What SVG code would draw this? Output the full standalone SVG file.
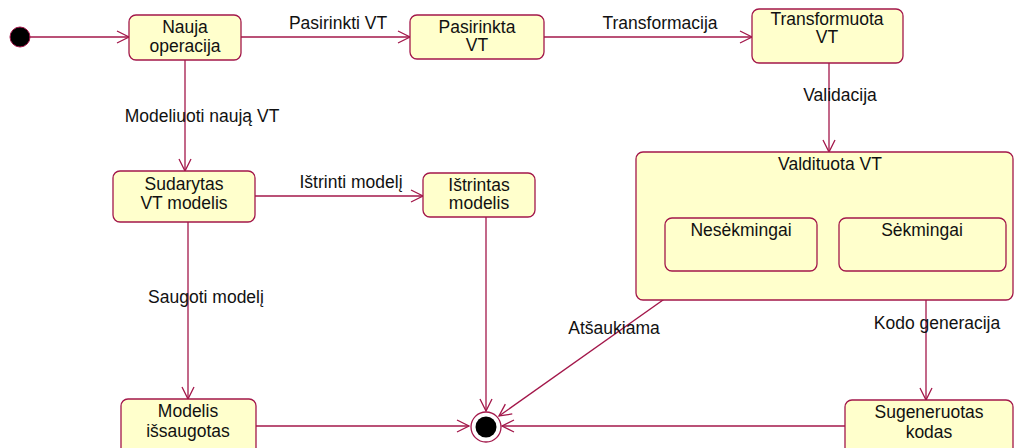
<svg xmlns="http://www.w3.org/2000/svg" width="1015" height="448" viewBox="0 0 1015 448">
  <style>
    .state { fill: #ffffcc; stroke: #a3174a; stroke-width: 1.3; }
    .edge { fill: none; stroke: #a3174a; stroke-width: 1.3; marker-end: url(#open); }
    text { font-family: "Liberation Sans", Arial, sans-serif; font-size: 17.5px; fill: #111; }
    .c { text-anchor: middle; }
  </style>
  <defs>
    <marker id="open" markerUnits="userSpaceOnUse" markerWidth="16" markerHeight="16" refX="13" refY="7" orient="auto" viewBox="0 0 16 14">
      <path d="M1,1 L13,7 L1,13" fill="none" stroke="#a3174a" stroke-width="1.3"/>
    </marker>
  </defs>

  <!-- transitions -->
  <g id="connectors">
    <line class="edge" x1="30" y1="37" x2="129" y2="37"/>
    <line class="edge" x1="241" y1="37" x2="410" y2="37"/>
    <line class="edge" x1="544" y1="37" x2="752" y2="37"/>
    <line class="edge" x1="829" y1="63" x2="829" y2="152"/>
    <line class="edge" x1="185" y1="60" x2="185" y2="171"/>
    <line class="edge" x1="255" y1="196" x2="423" y2="196"/>
    <line class="edge" x1="188" y1="222" x2="188" y2="399"/>
    <line class="edge" x1="486" y1="217" x2="486" y2="411"/>
    <line class="edge" x1="256" y1="426" x2="469" y2="426"/>
    <line class="edge" x1="704" y1="271" x2="499" y2="416"/>
    <line class="edge" x1="926" y1="271" x2="926" y2="400"/>
    <line class="edge" x1="845" y1="426" x2="502" y2="426"/>
    <text x="338" y="29" class="c">Pasirinkti VT</text>
    <text x="660" y="29" class="c">Transformacija</text>
    <text x="840" y="101" class="c">Validacija</text>
    <text x="202" y="122" class="c">Modeliuoti naują VT</text>
    <text x="351" y="188" class="c">Ištrinti modelį</text>
    <text x="206" y="303" class="c">Saugoti modelį</text>
    <text x="614" y="334" class="c">Atšaukiama</text>
    <text x="937" y="329" class="c">Kodo generacija</text>
  </g>

  <g id="initial">
    <circle cx="20" cy="37" r="10" fill="#000" stroke="#a3174a" stroke-width="1"/>
  </g>

  <g id="nauja">
    <rect class="state" x="129" y="15" width="112" height="45" rx="7"/>
    <text x="185" y="33" class="c">Nauja</text>
    <text x="185" y="52" class="c">operacija</text>
  </g>

  <g id="pasirinkta">
    <rect class="state" x="410" y="15" width="134" height="44" rx="7"/>
    <text x="477" y="33" class="c">Pasirinkta</text>
    <text x="477" y="51" class="c">VT</text>
  </g>

  <g id="transformuota">
    <rect class="state" x="752" y="9" width="151" height="54" rx="7"/>
    <text x="827" y="25" class="c">Transformuota</text>
    <text x="827" y="43" class="c">VT</text>
  </g>

  <g id="validuota">
    <rect class="state" x="636" y="152" width="377" height="148" rx="7"/>
    <text x="830" y="170" class="c">Valdituota VT</text>
    <g id="nesekmingai">
      <rect class="state" x="665" y="218" width="152" height="53" rx="7"/>
      <text x="741" y="236" class="c">Nesėkmingai</text>
    </g>
    <g id="sekmingai">
      <rect class="state" x="839" y="218" width="167" height="53" rx="7"/>
      <text x="922" y="236" class="c">Sėkmingai</text>
    </g>
  </g>

  <g id="sudarytas">
    <rect class="state" x="113" y="171" width="142" height="51" rx="7"/>
    <text x="184" y="190" class="c">Sudarytas</text>
    <text x="184" y="209" class="c">VT modelis</text>
  </g>

  <g id="istrintas">
    <rect class="state" x="423" y="173" width="112" height="44" rx="7"/>
    <text x="479" y="191" class="c">Ištrintas</text>
    <text x="479" y="209" class="c">modelis</text>
  </g>

  <g id="issaugotas">
    <rect class="state" x="121" y="399" width="135" height="56" rx="7"/>
    <text x="188" y="417" class="c">Modelis</text>
    <text x="188" y="437" class="c">išsaugotas</text>
  </g>

  <g id="sugeneruotas">
    <rect class="state" x="845" y="400" width="168" height="56" rx="7"/>
    <text x="929" y="418" class="c">Sugeneruotas</text>
    <text x="929" y="438" class="c">kodas</text>
  </g>

  <g id="final">
    <circle cx="486" cy="427" r="15" fill="#fff" stroke="#a3174a" stroke-width="1.3"/>
    <circle cx="486" cy="427" r="10.5" fill="#000"/>
  </g>
</svg>
